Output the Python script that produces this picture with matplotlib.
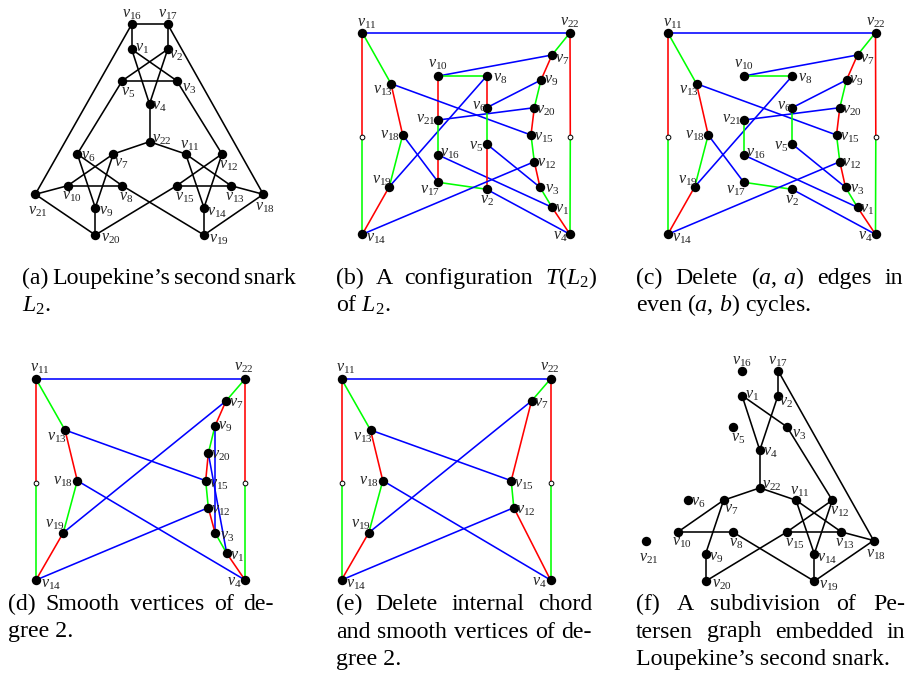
"""Six drawings of Loupekine's second snark and its reductions."""

import matplotlib

matplotlib.use("Agg")
import matplotlib.pyplot as plt

plt.rcParams["font.family"] = ["Liberation Serif", "DejaVu Serif"]
plt.rcParams["mathtext.fontset"] = "custom"
plt.rcParams["mathtext.rm"] = "Liberation Serif"
plt.rcParams["mathtext.it"] = "Liberation Serif:italic"

FIG_W, FIG_H = 910, 689

# ---- node layouts (local panel units, y grows downward) ----
LAYOUT_A = {
    "1": (111.7, 44.3), "2": (147.7, 44.3), "3": (156.7, 75.7), "4": (129.5, 99.0),
    "5": (102.3, 75.7), "6": (57.3, 149.0), "7": (93.3, 149.0), "8": (102.3, 180.7),
    "9": (75.3, 202.7), "10": (47.7, 180.7), "11": (165.7, 149.0), "12": (202.0, 149.0),
    "13": (211.0, 180.7), "14": (184.0, 202.7), "15": (156.7, 180.7), "16": (111.7, 19.3),
    "17": (147.7, 19.3), "18": (243.3, 189.3), "19": (184.0, 230.0), "20": (75.3, 230.0),
    "21": (15.3, 189.3), "22": (129.5, 136.7),
}
LAYOUT_BC = {
    "11": (12.3, 12.7), "22": (220.0, 12.7), "7": (202.0, 35.0), "10": (88.3, 56.0),
    "8": (136.7, 56.0), "9": (191.0, 60.0), "13": (41.0, 63.7), "6": (136.7, 87.7),
    "20": (184.3, 87.7), "21": (88.3, 100.0), "18": (52.7, 115.0), "15": (181.0, 115.0),
    "5": (136.7, 124.0), "16": (88.3, 135.0), "12": (184.3, 141.7), "19": (39.3, 166.7),
    "17": (88.3, 162.3), "2": (136.7, 169.3), "3": (190.0, 167.3), "1": (202.0, 187.3),
    "14": (12.3, 214.3), "4": (220.0, 214.3), "cL": (12.3, 116.7), "cR": (220.3, 116.7),
}
LAYOUT_DE = {
    "11": (16.0, 14.0), "22": (225.0, 14.0), "7": (206.0, 36.0), "9": (195.0, 61.0),
    "13": (45.0, 65.0), "20": (188.3, 88.3), "18": (57.3, 115.7), "15": (185.7, 115.7),
    "12": (188.3, 142.7), "19": (43.3, 167.7), "3": (195.0, 167.7), "1": (206.7, 188.3),
    "14": (16.0, 215.0), "4": (225.0, 215.0), "cL": (16.0, 118.3), "cR": (225.0, 118.3),
}

# ---- edges ----
EDGES_A = [
    ("16", "17"), ("16", "1"), ("17", "2"), ("1", "3"), ("1", "4"), ("2", "5"), ("2", "4"),
    ("5", "3"), ("4", "22"), ("16", "21"), ("17", "18"), ("5", "6"), ("3", "12"),
    ("22", "7"), ("22", "11"), ("6", "8"), ("6", "9"), ("7", "10"), ("7", "9"), ("10", "8"),
    ("10", "21"), ("21", "20"), ("9", "20"), ("20", "15"), ("8", "19"), ("11", "13"),
    ("11", "14"), ("12", "15"), ("12", "14"), ("15", "13"), ("13", "18"), ("18", "19"),
    ("14", "19"),
]
EDGES_B = [
    ("11", "22", "b"), ("11", "13", "g"), ("11", "cL", "r"), ("cL", "14", "g"),
    ("22", "7", "g"), ("22", "cR", "r"), ("cR", "4", "g"),
    ("7", "10", "b"), ("7", "9", "r"), ("10", "8", "g"), ("10", "21", "r"), ("8", "6", "r"),
    ("8", "19", "b"), ("9", "6", "b"), ("9", "20", "g"), ("13", "18", "r"), ("13", "15", "b"),
    ("21", "20", "b"), ("6", "5", "g"), ("20", "15", "r"), ("21", "16", "g"), ("18", "19", "g"),
    ("18", "17", "b"), ("16", "17", "r"), ("16", "1", "b"), ("17", "2", "g"), ("5", "2", "r"),
    ("5", "3", "b"), ("15", "12", "g"), ("12", "14", "b"), ("12", "3", "r"), ("3", "1", "g"),
    ("1", "4", "r"), ("2", "4", "b"), ("19", "14", "r"),
]
DELETED_C = {("10", "21"), ("8", "6"), ("16", "17"), ("5", "2")}
EDGES_C = [e for e in EDGES_B if (e[0], e[1]) not in DELETED_C]
EDGES_D = [
    ("11", "22", "b"), ("11", "13", "g"), ("11", "cL", "r"), ("cL", "14", "g"),
    ("22", "7", "g"), ("22", "cR", "r"), ("cR", "4", "g"),
    ("7", "9", "r"), ("7", "19", "b"), ("9", "20", "g"), ("9", "3", "b"), ("20", "15", "r"),
    ("20", "1", "b"), ("13", "18", "r"), ("13", "15", "b"), ("18", "19", "g"), ("18", "4", "b"),
    ("19", "14", "r"), ("15", "12", "g"), ("12", "14", "b"), ("12", "3", "r"), ("3", "1", "g"),
    ("1", "4", "r"),
]
EDGES_E = [
    ("11", "22", "b"), ("11", "13", "g"), ("11", "cL", "r"), ("cL", "14", "g"),
    ("22", "7", "g"), ("22", "cR", "r"), ("cR", "4", "g"),
    ("7", "19", "b"), ("7", "15", "r"), ("13", "18", "r"), ("13", "15", "b"), ("18", "19", "g"),
    ("18", "4", "b"), ("19", "14", "r"), ("15", "12", "g"), ("12", "14", "b"), ("12", "4", "r"),
]
EDGES_F = [
    ("17", "2"), ("17", "18"), ("1", "4"), ("1", "3"), ("2", "4"), ("3", "12"), ("4", "22"),
    ("22", "7"), ("22", "11"), ("7", "10"), ("7", "9"), ("10", "8"), ("8", "19"), ("9", "20"),
    ("20", "15"), ("11", "13"), ("11", "14"), ("12", "15"), ("12", "14"), ("15", "13"),
    ("13", "18"), ("18", "19"), ("14", "19"),
]

# ---- label offsets in pixels (dx right, dy down) ----
LABELS_A = {
    "16": (0, -10), "17": (0, -10), "1": (10, -1), "2": (8, 6), "5": (6, 11), "3": (12, 7),
    "4": (10, 2), "22": (12, -3), "6": (11, 2), "7": (8, 9), "11": (4, -9), "12": (7, 11),
    "10": (4, 10), "8": (4, 11), "15": (8, 11), "13": (4, 11), "21": (3, 17), "18": (2, 13),
    "9": (11, 3), "14": (13, 4), "20": (16, 3), "19": (15, 4),
}
LABELS_BC = {
    "11": (5, -10), "22": (0, -11), "7": (10, 4), "10": (0, -12), "8": (13, 2), "9": (10, 0),
    "13": (-8, 6), "6": (-8, -2), "20": (12, 2), "21": (-12, -1), "18": (-13, 0), "15": (13, 2),
    "5": (-11, 2), "16": (12, -2), "12": (12, 1), "19": (-7, -7), "17": (-8, 8), "2": (0, 11),
    "3": (12, 2), "1": (10, 2), "14": (14, 4), "4": (-10, 2),
}
LABELS_DE = {
    "11": (4, -11), "22": (-1, -12), "7": (10, 2), "9": (10, 0), "13": (-8, 7), "20": (13, 2),
    "18": (-14, 0), "15": (13, 3), "12": (12, 2), "19": (-8, -9), "3": (12, 3), "1": (10, 3),
    "14": (15, 4), "4": (-11, 2),
}

COLORS = {"b": "#0000ff", "r": "#ff0000", "g": "#00ff00", "k": "#000000"}

# ---- captions ----
CAPTIONS = [
    (["(a) Loupekine\u2019s second snark", "$L_2$."], 22, 296, 284),
    (["(b) A configuration $T(L_2)$", "of $L_2$."], 336, 597, 284),
    (["(c) Delete $(a,\\,a)$ edges in", "even $(a,\\,b)$ cycles."], 636, 903, 284),
    (["(d) Smooth vertices of de-", "gree 2."], 8, 274, 610),
    (["(e) Delete internal chord", "and smooth vertices of de-", "gree 2."], 336, 592, 610),
    (["(f) A subdivision of Pe-", "tersen graph embedded in",
      "Loupekine\u2019s second snark."], 636, 905, 610),
]
LINE_GAP = 27.5
CAPTION_SIZE = 17.2


def panel_axes(fig, origin, size):
    ox, oy = origin
    w, h = size
    ax = fig.add_axes([ox / FIG_W, 1 - (oy + h) / FIG_H, w / FIG_W, h / FIG_H])
    ax.set_xlim(0, w)
    ax.set_ylim(h, 0)
    ax.axis("off")
    return ax


def draw_graph(ax, layout, edges, labels):
    for edge in edges:
        u, v = edge[0], edge[1]
        color = COLORS[edge[2]] if len(edge) > 2 else COLORS["k"]
        (x1, y1), (x2, y2) = layout[u], layout[v]
        ax.plot([x1, x2], [y1, y2], color=color, lw=1.15, zorder=1, clip_on=False)
    names = [n for n in layout if not n.startswith("c")]
    ax.scatter([layout[n][0] for n in names], [layout[n][1] for n in names],
               s=46, color="black", zorder=3, clip_on=False, linewidths=0)
    subdiv = [n for n in layout if n.startswith("c")]
    ax.plot([layout[n][0] for n in subdiv], [layout[n][1] for n in subdiv], "o", ls="none",
            ms=3.4, mfc="white", mec="black", mew=0.7, zorder=3, clip_on=False)
    for n in names:
        dx, dy = labels[n]
        ax.annotate(f"$v_{{\\mathit{{{n}}}}}$", xy=layout[n], xytext=(dx, -dy),
                    textcoords="offset pixels", ha="center", va="center", fontsize=11.5,
                    color="#222222", zorder=4)


def draw_caption(ax, renderer, lines, x0, x1, y0):
    for i, line in enumerate(lines):
        y = y0 + i * LINE_GAP
        last = i == len(lines) - 1
        if last:
            ax.text(x0, y, line, fontsize=CAPTION_SIZE, ha="left", va="baseline")
            continue
        words = line.split(" ")
        items = [ax.text(0, y, w, fontsize=CAPTION_SIZE, ha="left", va="baseline") for w in words]
        widths = [t.get_window_extent(renderer=renderer).width for t in items]
        gap = max(3.0, (x1 - x0 - sum(widths)) / (len(words) - 1))
        x = x0
        for t, w in zip(items, widths):
            t.set_x(x)
            x += w + gap


def main():
    fig = plt.figure(figsize=(FIG_W / 100, FIG_H / 100), dpi=100)

    ax_a = panel_axes(fig, (20, 5), (280, 245))
    draw_graph(ax_a, LAYOUT_A, EDGES_A, LABELS_A)

    ax_b = panel_axes(fig, (350, 20), (240, 230))
    draw_graph(ax_b, LAYOUT_BC, EDGES_B, LABELS_BC)

    ax_c = panel_axes(fig, (655.5, 20), (240, 230))
    draw_graph(ax_c, LAYOUT_BC, EDGES_C, LABELS_BC)

    ax_d = panel_axes(fig, (20, 365), (240, 230))
    draw_graph(ax_d, LAYOUT_DE, EDGES_D, LABELS_DE)

    layout_e = {k: v for k, v in LAYOUT_DE.items() if k not in ("9", "20", "3", "1")}
    ax_e = panel_axes(fig, (325.5, 365), (240, 230))
    draw_graph(ax_e, layout_e, EDGES_E, LABELS_DE)

    ax_f = panel_axes(fig, (630.3, 351.2), (280, 245))
    draw_graph(ax_f, LAYOUT_A, EDGES_F, LABELS_A)

    # caption layer in figure pixel units
    cap = fig.add_axes([0, 0, 1, 1])
    cap.set_xlim(0, FIG_W)
    cap.set_ylim(FIG_H, 0)
    cap.axis("off")
    renderer = fig.canvas.get_renderer()
    for lines, x0, x1, y0 in CAPTIONS:
        draw_caption(cap, renderer, lines, x0, x1, y0)

    fig.savefig("out.png", dpi=100)


if __name__ == "__main__":
    main()
